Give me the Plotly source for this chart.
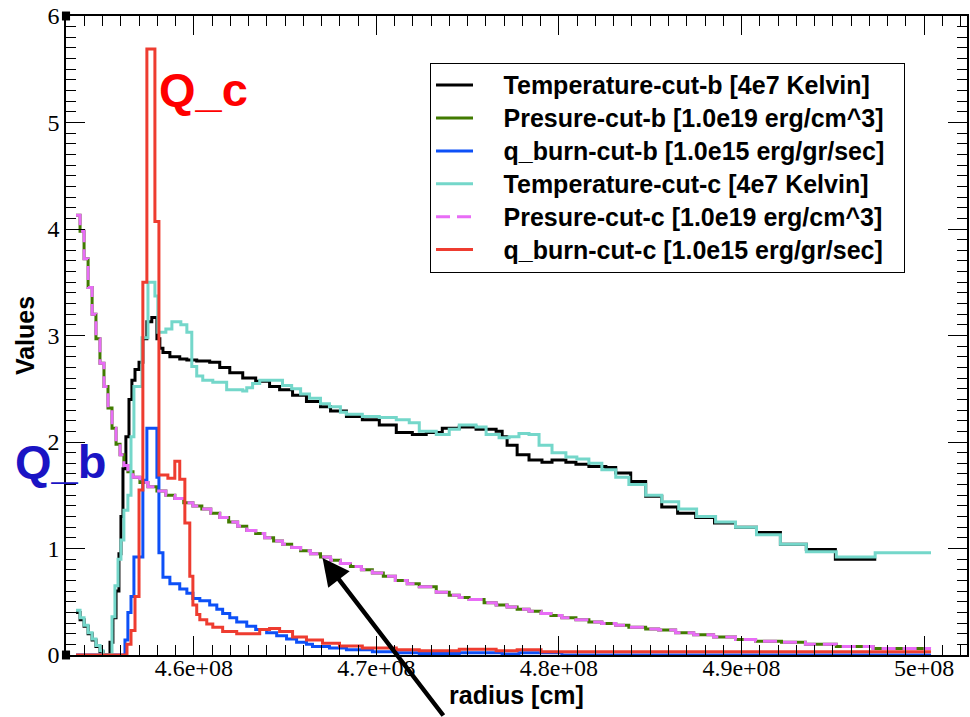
import plotly.graph_objects as go

# radius values in units of 1e6 cm, step-start positions (line_shape='hv')
pres_b_r = [453.55, 453.77, 453.99, 454.21, 454.43, 454.64, 454.86, 455.08, 455.30, 455.52,
            455.74, 455.96, 456.17, 456.39, 456.67, 457.05, 457.49, 457.98, 458.47, 458.96,
            459.45, 459.95, 460.44, 460.93, 461.42, 461.91, 462.40, 462.90, 463.39, 463.88,
            464.37, 464.86, 465.36, 465.85, 466.39, 466.94, 467.49, 468.03, 468.58, 469.18,
            469.78, 470.38, 471.04, 471.69, 472.35, 473.28, 473.99, 474.54, 475.08, 475.90,
            476.56, 477.16, 477.71, 478.36, 479.02, 479.56, 480.16, 480.93, 481.64, 482.35,
            483.11, 483.83, 484.75, 485.46, 486.39, 487.38, 488.47, 489.67, 490.77, 492.19,
            493.50, 495.19, 497.21, 500.38]
pres_b_v = [4.13, 3.98, 3.72, 3.45, 3.20, 2.97, 2.74, 2.52, 2.32, 2.13,
            1.98, 1.88, 1.78, 1.72, 1.67, 1.62, 1.58, 1.54, 1.50, 1.47,
            1.43, 1.40, 1.37, 1.33, 1.29, 1.25, 1.21, 1.17, 1.14, 1.10,
            1.07, 1.04, 1.01, 0.98, 0.95, 0.92, 0.89, 0.86, 0.83, 0.80,
            0.77, 0.74, 0.70, 0.67, 0.64, 0.59, 0.56, 0.54, 0.52, 0.49,
            0.47, 0.45, 0.43, 0.41, 0.39, 0.37, 0.35, 0.33, 0.31, 0.295,
            0.28, 0.26, 0.245, 0.235, 0.21, 0.19, 0.17, 0.145, 0.13, 0.12,
            0.10, 0.08, 0.06, 0.06]
pres_c_r = list(pres_b_r)
pres_c_v = list(pres_b_v)

temp_b_r = [453.55, 453.77, 453.99, 454.21, 454.43, 454.64, 454.86, 455.03, 455.41, 455.57,
            455.74, 455.90, 456.01, 456.12, 456.28, 456.45, 456.61, 456.78, 457.00, 457.21,
            457.43, 457.70, 457.98, 458.14, 458.31, 458.69, 459.23, 459.62, 460.16, 460.87,
            461.42, 461.97, 462.68, 463.39, 464.15, 464.70, 465.41, 466.17, 466.94, 467.49,
            468.36, 469.23, 470.16, 471.09, 471.97, 472.73, 473.61, 474.54, 475.46, 476.56,
            476.89, 477.16, 477.71, 478.36, 479.07, 479.62, 480.38, 480.93, 481.64, 482.57,
            483.11, 483.93, 484.75, 485.63, 486.50, 487.49, 488.52, 489.67, 490.82, 492.13,
            493.55, 495.14, 497.38]
temp_b_v = [0.40, 0.33, 0.27, 0.20, 0.14, 0.08, 0.03, 0.0, 0.12, 0.35,
            0.60, 0.95, 1.30, 1.75, 2.05, 2.40, 2.58, 2.68, 2.75, 2.97,
            3.13, 3.17, 2.97, 2.88, 2.84, 2.80, 2.78, 2.77, 2.76, 2.75,
            2.70, 2.65, 2.60, 2.57, 2.52, 2.49, 2.44, 2.38, 2.33, 2.29,
            2.24, 2.21, 2.16, 2.09, 2.07, 2.09, 2.13, 2.14, 2.12, 2.10,
            2.05, 1.97, 1.88, 1.83, 1.81, 1.83, 1.81, 1.79, 1.77, 1.76,
            1.71, 1.63, 1.49, 1.39, 1.33, 1.29, 1.24, 1.20, 1.15, 1.04,
            0.99, 0.90, 0.90]

temp_c_r = [453.55, 453.77, 453.99, 454.21, 454.43, 454.64, 454.86, 455.03, 455.52, 455.68,
            455.85, 456.01, 456.17, 456.39, 456.56, 456.72, 457.16, 457.49, 457.87, 458.03,
            458.47, 458.80, 459.29, 459.62, 459.89, 460.16, 460.49, 461.04, 461.80, 462.68,
            462.90, 463.22, 463.61, 464.32, 464.86, 465.36, 465.85, 466.34, 466.94, 467.43,
            468.03, 468.36, 469.23, 470.16, 471.09, 471.80, 472.35, 473.28, 473.99, 474.54,
            475.46, 476.01, 476.72, 477.27, 477.81, 478.36, 478.91, 479.62, 480.38, 480.98,
            481.64, 482.35, 483.11, 483.83, 484.75, 485.63, 486.56, 487.54, 488.58, 489.67,
            490.82, 492.13, 493.55, 495.19, 497.32, 500.38]
temp_c_v = [0.42, 0.35, 0.28, 0.21, 0.15, 0.09, 0.04, 0.0, 0.36, 0.65,
            0.90, 1.08, 1.36, 1.50, 2.05, 2.52, 2.98, 3.50, 3.37, 3.03,
            3.06, 3.13, 3.10, 3.03, 2.71, 2.62, 2.58, 2.56, 2.49, 2.48,
            2.51, 2.55, 2.58, 2.58, 2.53, 2.50, 2.45, 2.41, 2.36, 2.33,
            2.28, 2.26, 2.24, 2.23, 2.21, 2.18, 2.10, 2.07, 2.12, 2.16,
            2.14, 2.07, 2.04, 2.05, 2.08, 2.07, 1.97, 1.90, 1.86, 1.84,
            1.80, 1.74, 1.67, 1.60, 1.50, 1.44, 1.37, 1.30, 1.25, 1.20,
            1.13, 1.04, 0.97, 0.92, 0.96, 0.96]

qb_b_r = [453.55, 456.23, 456.39, 456.56, 456.72, 457.21, 457.43, 457.98, 458.09, 458.31,
          458.69, 459.23, 459.62, 459.95, 460.33, 460.87, 461.26, 461.58, 461.97, 462.35,
          462.90, 463.39, 463.99, 464.54, 465.08, 465.63, 466.17, 466.50, 467.43, 468.36,
          469.78, 471.09, 472.35, 474.54, 476.89, 477.81, 480.16, 500.38]
qb_b_v = [0.0, 0.14, 0.40, 0.55, 0.92, 1.64, 2.13, 1.67, 0.96, 0.73,
          0.67, 0.62, 0.58, 0.53, 0.51, 0.47, 0.43, 0.39, 0.35, 0.31,
          0.27, 0.24, 0.21, 0.18, 0.15, 0.12, 0.10, 0.08, 0.065, 0.05,
          0.03, 0.02, 0.015, 0.02, 0.01, 0.02, 0.0, 0.0]

qb_c_r = [453.55, 456.34, 456.56, 456.78, 457.00, 457.21, 457.43, 457.87, 458.09, 458.58,
          458.96, 459.23, 459.51, 459.78, 459.95, 460.16, 460.33, 460.71, 461.04, 461.58,
          462.35, 463.06, 463.61, 464.15, 464.70, 465.41, 466.17, 467.05, 467.98, 469.23,
          471.09, 472.35, 474.54, 476.56, 477.71, 479.02, 500.38]
qb_c_v = [0.0, 0.10, 0.23, 0.55, 1.55, 3.50, 5.69, 4.07, 1.69, 1.66,
          1.82, 1.65, 1.24, 0.74, 0.47, 0.38, 0.33, 0.29, 0.26, 0.22,
          0.20, 0.20, 0.24, 0.25, 0.22, 0.17, 0.14, 0.11, 0.085, 0.066,
          0.05, 0.04, 0.055, 0.04, 0.05, 0.03, 0.03]

x_tick_vals = [4.6e8, 4.7e8, 4.8e8, 4.9e8, 5.0e8]
x_tick_text = ["4.6e+08", "4.7e+08", "4.8e+08", "4.9e+08", "5e+08"]
y_tick_vals = [0, 1, 2, 3, 4, 5, 6]
y_tick_text = ["0", "1", "2", "3", "4", "5", "6"]

names = ["Temperature-cut-b [4e7 Kelvin]",
         "Presure-cut-b [1.0e19 erg/cm^3]",
         "q_burn-cut-b [1.0e15 erg/gr/sec]",
         "Temperature-cut-c [4e7 Kelvin]",
         "Presure-cut-c [1.0e19 erg/cm^3]",
         "q_burn-cut-c [1.0e15 erg/gr/sec]"]
colors = ["#000000", "#417b00", "#0d50f7", "#74d7ca", "#e86cf6", "#ee3c30"]
dashes = ["solid", "solid", "solid", "solid", "14px,7px", "solid"]
series = [(temp_b_r, temp_b_v), (pres_b_r, pres_b_v), (qb_b_r, qb_b_v),
          (temp_c_r, temp_c_v), (pres_c_r, pres_c_v), (qb_c_r, qb_c_v)]

fig = go.Figure()
for i, ((r, v), nm, col, ds) in enumerate(zip(series, names, colors, dashes)):
    fig.add_trace(go.Scatter(
        x=[ri * 1e6 for ri in r], y=v, mode="lines", line_shape="hv",
        name='\u00a0\u00a0\u00a0\u00a0<span style="font-size:25px"><b>' + nm + '\u00a0\u00a0</b></span>',
        line=dict(color=col, width=3, dash=ds)))

axis_font = dict(family="Liberation Serif", size=24, color="black")
title_font = dict(family="Liberation Sans", size=25, color="black")

fig.update_xaxes(
    range=[4.530e8, 5.0235e8], tickmode="array", tickvals=x_tick_vals, ticktext=x_tick_text,
    ticks="inside", ticklen=19, tickwidth=1, tickcolor="black", ticklabelstandoff=-10,
    minor=dict(ticks="inside", ticklen=10, tickwidth=1, tickcolor="black", dtick=1e6, tick0=4.6e8),
    showline=True, linecolor="black", linewidth=1.5, mirror="ticks",
    showgrid=False, zeroline=False, tickfont=axis_font,
    title=dict(text="<b>radius [cm]</b>", font=title_font, standoff=6))
fig.update_yaxes(
    range=[0, 6], tickmode="array", tickvals=y_tick_vals, ticktext=y_tick_text,
    ticks="inside", ticklen=19, tickwidth=1, tickcolor="black",
    minor=dict(ticks="inside", ticklen=10, tickwidth=1, tickcolor="black", dtick=0.1, tick0=0),
    showline=True, linecolor="black", linewidth=1.5, mirror="ticks",
    showgrid=False, zeroline=False, tickfont=axis_font,
    title=dict(text="<b>Values</b>", font=title_font, standoff=6))

fig.add_annotation(x=4.6055e8, y=5.31, xref="x", yref="y", text="<b>Q_c</b>", showarrow=False,
                   font=dict(family="Liberation Sans", size=47, color="#ff0000"))
fig.add_annotation(x=-0.0066, y=1.82, xref="paper", yref="y", text="<b>Q_b</b>", showarrow=False,
                   xanchor="center", yanchor="middle",
                   font=dict(family="Liberation Sans", size=47, color="#1a14c4"))
fig.add_annotation(x=4.6705e8, y=0.91, xref="x", yref="y", text="", showarrow=True,
                   ax=122, ay=164, arrowhead=2, arrowsize=1.2, arrowwidth=4.5, arrowcolor="black")

for yy in [0.0, 1.0]:
    fig.add_shape(type="rect", xref="paper", yref="paper",
                  x0=-0.0045, x1=0.0045, y0=yy - 0.007, y1=yy + 0.007,
                  fillcolor="black", line=dict(width=0))

fig.update_layout(
    width=970, height=717,
    margin=dict(l=66, r=1, t=16, b=62),
    paper_bgcolor="white", plot_bgcolor="white",
    legend=dict(x=0.404, y=0.927, xanchor="left", yanchor="top",
                bordercolor="black", borderwidth=1, bgcolor="white",
                font=dict(family="Liberation Sans", size=23, color="black"),
                tracegroupgap=0, itemwidth=37),
    showlegend=True,
)

fig.write_html("out.html")
